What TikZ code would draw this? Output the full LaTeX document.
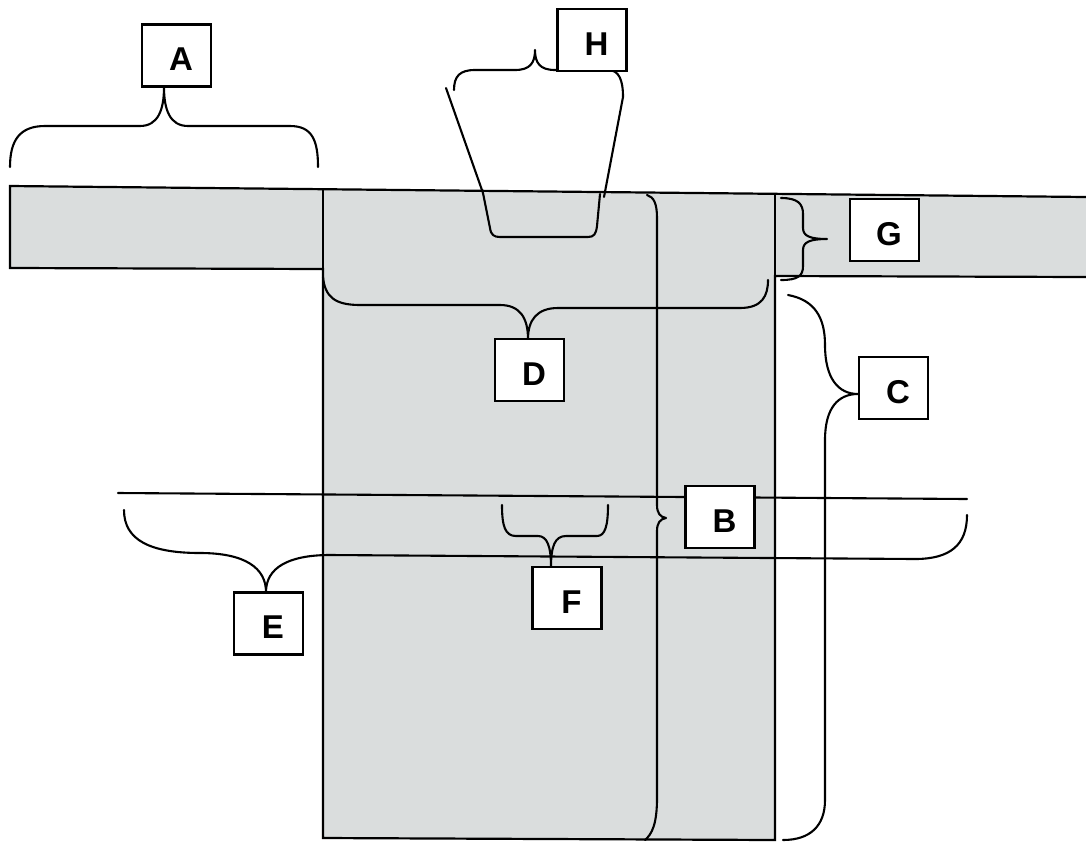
\documentclass[tikz,border=0pt]{standalone}
\usepackage{fontspec}
\setmainfont{Liberation Sans}
\definecolor{fabric}{RGB}{218,221,221}
\newcommand\lbltxt[1]{\hspace*{9pt}#1}
\tikzset{
  lbl/.style={draw, fill=white, line width=2.1pt, minimum width=69pt, minimum height=62pt,
    inner sep=0pt, font=\fontsize{33}{33}\selectfont\bfseries, text height=30pt, text depth=0pt},
  brace/.style={line width=2.1pt, line cap=round, line join=round},
  outline/.style={line width=2.2pt, line join=miter}
}
\begin{document}
\begin{tikzpicture}[x=1pt,y=-1pt]
\useasboundingbox (0,0) rectangle (1086,844);
% garment body
\fill[fabric] (10,186) -- (1086,197) -- (1086,277) -- (775,276) -- (775,840) -- (323,838) -- (323,269) -- (10,268) -- cycle;
\draw[outline] (1086,277) -- (775,276) -- (775,840) -- (323,838) -- (323,269) -- (10,268) -- (10,186) -- (1086,197);
\draw[outline] (323,189) -- (323,269);
\draw[outline] (775,194) -- (775,276);
% coordinates
\coordinate (Aleft) at (10,167);   \coordinate (Atip) at (164,87);   \coordinate (Aright) at (318,167);
\coordinate (Hleft) at (454,90);   \coordinate (Htip) at (535,50);   \coordinate (Hright) at (623,97);
\coordinate (HfL) at (446,88);     \coordinate (HbL) at (483,193);   \coordinate (HbR) at (604,197);
\coordinate (Gtop) at (781,198);   \coordinate (Gtip) at (827,239);  \coordinate (Gbot) at (781,280);
\coordinate (Dleft) at (323,277);  \coordinate (Dtip) at (528,339);  \coordinate (Dright) at (768,280);
\coordinate (Ctop) at (788,295);   \coordinate (Ctip) at (858,394);  \coordinate (Cbot) at (783,840);
\coordinate (Btop) at (647,195);   \coordinate (Btip) at (666,518);  \coordinate (Bbot) at (645,840);
\coordinate (Eleft) at (124,510);  \coordinate (Etip) at (266,592);  \coordinate (Eright) at (967,515);
\coordinate (Fleft) at (502,505);  \coordinate (Ftip) at (551,567);  \coordinate (Fright) at (608,505);
\coordinate (L1) at (118,493);     \coordinate (L2) at (967,499);
% braces and lines
\draw[brace] (Aleft) .. controls (10,140) and (20,126) .. (45,126) -- (140,126)
  .. controls (158,126) and (164,110) .. (Atip) .. controls (164,110) and (170,126) .. (188,126)
  -- (290,126) .. controls (312,126) and (318,140) .. (Aright);
\draw[brace] (Hleft) .. controls (454,76) and (460,70) .. (475,70) -- (515,70)
  .. controls (530,70) and (535,63) .. (Htip) .. controls (535,63) and (540,70) .. (555,70)
  -- (608,70) .. controls (619,70) and (623,80) .. (Hright);
\draw[brace] (HfL) -- (HbL);
\draw[brace] (Hright) -- (HbR);
\draw[brace] (HbL) -- (490,228) .. controls (491,235) and (494,237) .. (500,237) -- (588,237)
  .. controls (594,237) and (596,234) .. (597,226) -- (600,194);
\draw[brace] (Gtop) .. controls (798,198) and (803,204) .. (803,214) -- (803,228)
  .. controls (803,236) and (810,239) .. (Gtip) .. controls (810,239) and (803,242) .. (803,250)
  -- (803,266) .. controls (803,276) and (798,280) .. (Gbot);
\draw[brace] (Dleft) .. controls (325,297) and (335,305) .. (360,305) -- (500,305)
  .. controls (520,305) and (528,318) .. (Dtip) .. controls (528,320) and (537,308) .. (558,308)
  -- (740,308) .. controls (762,308) and (768,296) .. (Dright);
\draw[brace] (Ctop) .. controls (815,300) and (825,318) .. (825,345)
  .. controls (825,378) and (838,394) .. (Ctip) .. controls (838,394) and (825,408) .. (825,440)
  -- (825,800) .. controls (825,826) and (810,840) .. (Cbot);
\draw[brace] (Btop) .. controls (654,197) and (657,204) .. (657,218) -- (657,505)
  .. controls (657,513) and (660,517) .. (Btip) .. controls (660,519) and (657,523) .. (657,531)
  -- (657,798) .. controls (657,824) and (652,834) .. (Bbot);
\draw[brace] (Eleft) .. controls (124,540) and (150,553) .. (200,553)
  .. controls (245,553) and (266,568) .. (Etip) .. controls (266,568) and (288,555) .. (330,555)
  -- (915,559) .. controls (950,559) and (967,545) .. (Eright);
\draw[brace] (Fleft) .. controls (502,526) and (505,536) .. (516,536) -- (538,536)
  .. controls (547,536) and (551,546) .. (Ftip) .. controls (551,546) and (555,536) .. (566,536)
  -- (597,536) .. controls (605,536) and (608,526) .. (Fright);
\draw[brace] (L1) -- (L2);
% labels
\node[lbl] (A) at (176.5,55.5) {\lbltxt{A}};
\node[lbl] (H) at (592,40) {\lbltxt{H}};
\node[lbl] (G) at (884.5,230) {\lbltxt{G}};
\node[lbl] (C) at (893.5,388) {\lbltxt{C}};
\node[lbl] (D) at (529.5,370) {\lbltxt{D}};
\node[lbl] (B) at (720,517) {\lbltxt{B}};
\node[lbl] (F) at (567,598) {\lbltxt{F}};
\node[lbl] (E) at (268.5,623.5) {\lbltxt{E}};
\end{tikzpicture}
\end{document}
